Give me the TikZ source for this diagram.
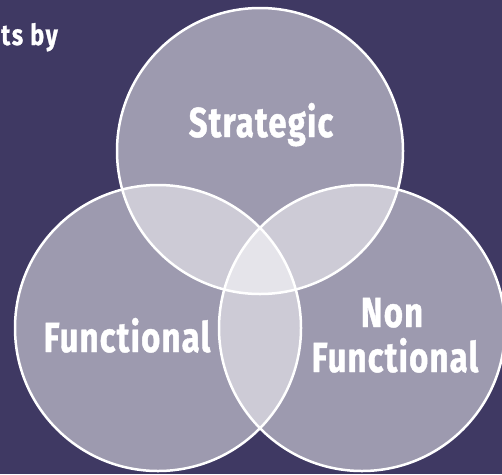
\documentclass[tikz,border=0pt]{standalone}
\usepackage{fontspec}
\newfontfamily\vennfont{Fira Sans}[FakeStretch=0.78, LetterSpace=3, BoldFeatures={FakeBold=1}]
\newfontfamily\titlefont{Fira Sans}[FakeStretch=0.8, LetterSpace=6, BoldFeatures={FakeBold=1}]
\definecolor{bgpurple}{RGB}{63,57,99}
\tikzset{
  venncircle/.style={circle, draw=white, line width=2.5pt, fill=white, fill opacity=0.49, minimum size=286pt, inner sep=0pt},
  vennlabel/.style={text=white, font=\vennfont\bfseries\fontsize{42}{45}\selectfont, anchor=base, inner sep=0pt},
  titlelabel/.style={text=white, font=\titlefont\bfseries\fontsize{29}{30}\selectfont, anchor=base east, inner sep=0pt}
}
\begin{document}
\begin{tikzpicture}[x=1pt,y=-1pt]
\fill[bgpurple] (0,0) rectangle (502,474);
\useasboundingbox (0,0) rectangle (502,474);
\node[venncircle] (strategic) at (260,151) {};
\node[venncircle] (functional) at (158,328) {};
\node[venncircle] (nonfunctional) at (362,328) {};
\node[titlelabel] (title) at (58,45) {ts by};
\node[vennlabel] (lstrat) at (261,137) {Strategic};
\node[vennlabel] (lfunc) at (127,352) {Functional};
\node[vennlabel] (lnon) at (392,327) {Non};
\node[vennlabel] (lnonfunc) at (395,372) {Functional};
\end{tikzpicture}
\end{document}
